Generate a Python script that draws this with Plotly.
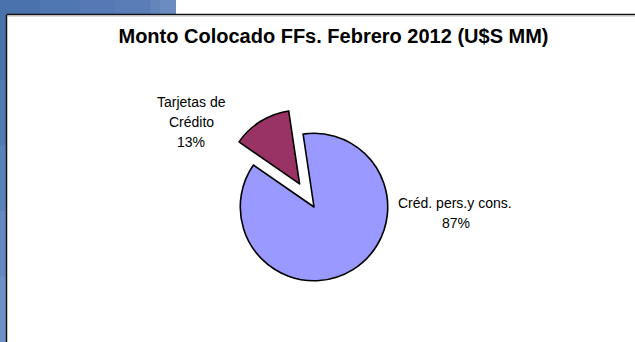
import plotly.graph_objects as go

# Placement by segment (U$S MM share)
labels = ["Créd. pers.y cons.", "Tarjetas de Crédito"]
values = [87, 13]
colors = ["#9999FF", "#993366"]
pulls = [0, 0.37]
label_lines = [["Créd. pers.y cons."], ["Tarjetas de", "Crédito"]]

W, H = 635, 342
FONT = "Liberation Sans, Arial, sans-serif"

fig = go.Figure()

# pie centred at (314, 207) px, domain 200 px square
cx, cy, half = 314, 207, 101
fig.add_trace(go.Pie(
    labels=labels,
    values=values,
    sort=False,
    direction="clockwise",
    rotation=-8.5,
    pull=pulls,
    marker=dict(colors=colors, line=dict(color="#000000", width=1.6)),
    textinfo="none",
    hoverinfo="label+percent",
    showlegend=False,
    domain=dict(x=[(cx - half) / W, (cx + half) / W],
                y=[(H - cy - half) / H, (H - cy + half) / H]),
))

# slide background: blue band on top-left and left edge
blues = ["#4a72ad", "#4f77b1", "#5479b4", "#5a7db7", "#6385bc", "#6b8cc1"]
x_edges = [0, 40, 80, 115, 150, 160, 176]
shapes = []
for i, c in enumerate(blues):
    shapes.append(dict(type="rect", xref="paper", yref="paper",
                       x0=x_edges[i] / W, x1=(x_edges[i + 1] + (1 if i < len(blues) - 1 else 0)) / W,
                       y0=1 - 14 / H, y1=1, fillcolor=c, line_width=0, layer="below"))
strip = ["#4a72ad", "#5279b3", "#5b81ba", "#6589bf", "#6e90c4"]
for i, c in enumerate(strip):
    y_top = 14 + i * (H - 14) / len(strip)
    y_bot = 14 + (i + 1) * (H - 14) / len(strip) + 1
    shapes.append(dict(type="rect", xref="paper", yref="paper",
                       x0=0, x1=6 / W, y0=max(0, 1 - y_bot / H), y1=1 - y_top / H,
                       fillcolor=c, line_width=0, layer="below"))
# chart frame border (top and left) with soft shadow
shapes += [
    dict(type="line", xref="paper", yref="paper", x0=6.5 / W, x1=1,
         y0=1 - 14.5 / H, y1=1 - 14.5 / H, line=dict(color="#111111", width=1.5)),
    dict(type="line", xref="paper", yref="paper", x0=6.5 / W, x1=6.5 / W,
         y0=0, y1=1 - 14.5 / H, line=dict(color="#111111", width=1.5)),
    dict(type="line", xref="paper", yref="paper", x0=8 / W, x1=1,
         y0=1 - 16 / H, y1=1 - 16 / H, line=dict(color="#bdbdbd", width=1)),
]

# slice labels: name lines followed by percentage
total = sum(values)
label_pos = [
    [(455, 203), (456, 223)],
    [(191, 102), (191, 122), (191, 142)],
]
annotations = []
for lines, v, pos in zip(label_lines, values, label_pos):
    texts = lines + [f"{round(100 * v / total)}%"]
    for t, (px, py) in zip(texts, pos):
        annotations.append(dict(text=t, x=px / W, y=1 - py / H, xref="paper", yref="paper",
                                showarrow=False, xanchor="center", yanchor="middle",
                                font=dict(family=FONT, size=14, color="#000000")))

fig.update_layout(
    width=W, height=H,
    margin=dict(l=0, r=0, t=0, b=0),
    paper_bgcolor="#ffffff",
    plot_bgcolor="#ffffff",
    title=dict(text="<b>Monto Colocado FFs. Febrero 2012 (U$S MM)</b>",
               x=333.5 / W, y=1 - 36 / H, xanchor="center", yanchor="middle",
               font=dict(family=FONT, size=20, color="#000000")),
    shapes=shapes,
    annotations=annotations,
)

fig.write_html("out.html")
